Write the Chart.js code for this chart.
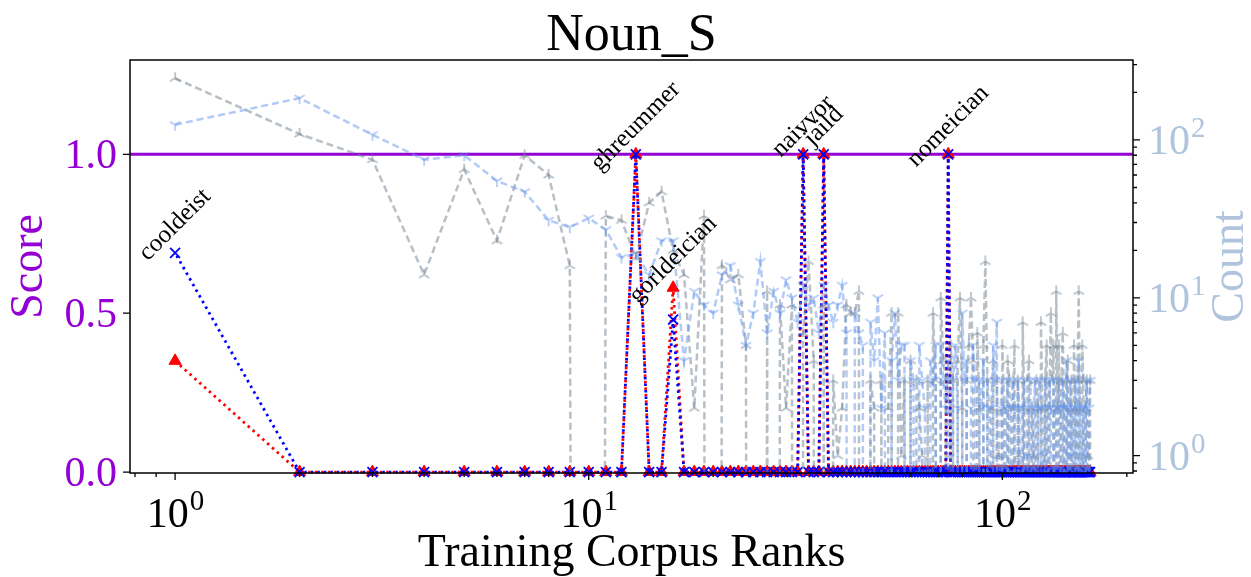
<!DOCTYPE html>
<html>
<head>
<meta charset="utf-8">
<script src="https://cdn.jsdelivr.net/npm/chart.js@4.4.0/dist/chart.umd.min.js"></script>
<style>
  html, body { margin: 0; padding: 0; background: #fff; }
</style>
</head>
<body>
<canvas id="chart" width="1251" height="577"></canvas>
<script>
// scores per training-corpus rank (1..163)
const redScore = [
  0.35, 0, 0, 0, 0, 0, 0, 0, 0, 0,
  0, 0, 1, 0, 0, 0.58, 0, 0, 0, 0,
  0, 0, 0, 0, 0, 0, 0, 0, 0, 0,
  0, 0, 1, 0, 0, 0, 1, 0, 0, 0,
  0, 0, 0, 0, 0, 0, 0, 0, 0, 0,
  0, 0, 0, 0, 0, 0, 0, 0, 0, 0,
  0, 0, 0, 0, 0, 0, 0, 0, 0, 0,
  0, 0, 0, 1, 0, 0, 0, 0, 0, 0,
  0, 0, 0, 0, 0, 0, 0, 0, 0, 0,
  0, 0, 0, 0, 0, 0, 0, 0, 0, 0,
  0, 0, 0, 0, 0, 0, 0, 0, 0, 0,
  0, 0, 0, 0, 0, 0, 0, 0, 0, 0,
  0, 0, 0, 0, 0, 0, 0, 0, 0, 0,
  0, 0, 0, 0, 0, 0, 0, 0, 0, 0,
  0, 0, 0, 0, 0, 0, 0, 0, 0, 0,
  0, 0, 0, 0, 0, 0, 0, 0, 0, 0,
  0, 0, 0
];
const blueScore = [
  0.69, 0, 0, 0, 0, 0, 0, 0, 0, 0,
  0, 0, 1, 0, 0, 0.48, 0, 0, 0, 0,
  0, 0, 0, 0, 0, 0, 0, 0, 0, 0,
  0, 0, 1, 0, 0, 0, 1, 0, 0, 0,
  0, 0, 0, 0, 0, 0, 0, 0, 0, 0,
  0, 0, 0, 0, 0, 0, 0, 0, 0, 0,
  0, 0, 0, 0, 0, 0, 0, 0, 0, 0,
  0, 0, 0, 1, 0, 0, 0, 0, 0, 0,
  0, 0, 0, 0, 0, 0, 0, 0, 0, 0,
  0, 0, 0, 0, 0, 0, 0, 0, 0, 0,
  0, 0, 0, 0, 0, 0, 0, 0, 0, 0,
  0, 0, 0, 0, 0, 0, 0, 0, 0, 0,
  0, 0, 0, 0, 0, 0, 0, 0, 0, 0,
  0, 0, 0, 0, 0, 0, 0, 0, 0, 0,
  0, 0, 0, 0, 0, 0, 0, 0, 0, 0,
  0, 0, 0, 0, 0, 0, 0, 0, 0, 0,
  0, 0, 0
];
// counts (right axis, log)
const grayCount = [
  246, 109, 75, 14, 65, 23, 80, 60, 16, 0,
  33, 31, 18, 40, 47, 20, 14, 2, 33, 0,
  16, 13, 14, 5, 0, 0, 11, 0, 9, 2,
  9, 0, 6, 17, 4, 0, 9, 0, 3, 1,
  2, 9, 8, 8, 11, 0, 0, 3, 2, 0,
  3, 0, 2, 8, 0, 8, 1, 3, 0, 4,
  0, 3, 2, 1, 0, 3, 0, 8, 3, 0,
  10, 4, 3, 0, 5, 3, 0, 4, 10, 2,
  0, 3, 5, 10, 4, 0, 6, 2, 0, 5,
  17, 3, 0, 2, 4, 0, 3, 1, 0, 5,
  2, 0, 4, 3, 0, 2, 5, 0, 3, 1,
  0, 7, 2, 0, 3, 4, 0, 2, 1, 0,
  3, 2, 0, 7, 2, 0, 3, 5, 0, 2,
  8, 3, 5, 0, 11, 2, 5, 0, 3, 6,
  2, 0, 3, 4, 0, 2, 3, 0, 5, 2,
  0, 3, 11, 2, 0, 5, 3, 0, 2, 3,
  1, 0, 3
];
const blueCount = [
  125, 184, 108, 75, 80, 55, 47, 31, 28, 32,
  27, 18, 19, 14, 23, 23, 4, 11, 9, 8,
  14, 16, 9, 5, 8, 17, 6, 11, 8, 13,
  10, 7, 12, 9, 10, 6, 12, 9, 7, 9,
  12, 6, 0, 8, 6, 5, 0, 7, 4, 10,
  2, 6, 0, 4, 8, 3, 5, 5, 0, 4,
  3, 0, 5, 3, 2, 0, 4, 3, 5, 0,
  5, 3, 2, 4, 0, 3, 5, 2, 0, 8,
  3, 4, 0, 2, 5, 3, 0, 3, 2, 4,
  0, 3, 2, 0, 5, 3, 7, 0, 2, 3,
  0, 2, 3, 0, 2, 3, 2, 0, 3, 2,
  0, 2, 3, 0, 1, 2, 3, 0, 2, 3,
  0, 2, 3, 2, 0, 1, 3, 0, 2, 3,
  2, 0, 3, 2, 0, 2, 3, 2, 0, 3,
  2, 0, 4, 2, 0, 3, 1, 2, 0, 3,
  2, 0, 4, 2, 0, 1, 2, 0, 2, 3,
  0, 2, 3
];
const annotLabels = ["cooldeist", "ghreummer", "gorldeician", "naivvor", "jaild", "nomeician"];
const annotRanks = [1, 13, 16, 33, 37, 74];
const xMajor = [1, 10, 100];
const xMinor = [0.8, 0.9, 2, 3, 4, 5, 6, 7, 8, 9, 20, 30, 40, 50, 60, 70, 80, 90, 200];
const y2Major = [1, 10, 100];
const y2Minor = [0.8, 0.9, 2, 3, 4, 5, 6, 7, 8, 9, 20, 30, 40, 50, 60, 70, 80, 90, 200, 300];
const yTicks = [0, 0.5, 1.0];

const ranks = redScore.map((_, i) => i + 1);
const SERIF = "'Liberation Serif', 'Times New Roman', serif";
const VIOLET = "#9400D3";
const STEEL = "#B0C4DE";

// log axis can't show 0, push it far below like matplotlib's clipping
function pts(vals, isLog) {
  return vals.map((v, i) => ({ x: ranks[i], y: isLog && v <= 0 ? 1e-30 : v }));
}

function triMarker(color, up) {
  const c = document.createElement("canvas");
  c.width = 16; c.height = 16;
  const g = c.getContext("2d");
  g.strokeStyle = color; g.lineWidth = 1.7;
  const r = 6, cx = 8, cy = 8, s = up ? -1 : 1;
  g.beginPath();
  g.moveTo(cx, cy); g.lineTo(cx, cy + s * r);
  g.moveTo(cx, cy); g.lineTo(cx - 0.866 * r, cy - s * 0.5 * r);
  g.moveTo(cx, cy); g.lineTo(cx + 0.866 * r, cy - s * 0.5 * r);
  g.stroke();
  return c;
}

const GRAY = "rgba(112,128,144,0.5)";
const LBLUE = "rgba(100,149,237,0.5)";

function drawPow(ctx, exp, x, y, align) {
  ctx.font = "42px " + SERIF;
  const w1 = ctx.measureText("10").width;
  ctx.font = "29px " + SERIF;
  const w2 = ctx.measureText(String(exp)).width;
  let start = align === "center" ? x - (w1 + w2) / 2 : x;
  ctx.textAlign = "left";
  ctx.textBaseline = "alphabetic";
  ctx.font = "42px " + SERIF;
  ctx.fillText("10", start, y);
  ctx.font = "29px " + SERIF;
  ctx.fillText(String(exp), start + w1 + 1, y - 17);
}

const decor = {
  id: "decor",
  beforeDatasetsDraw(chart) {
    const { ctx, chartArea: a, scales } = chart;
    const yy = scales.y.getPixelForValue(1.0);
    ctx.save();
    ctx.strokeStyle = VIOLET;
    ctx.lineWidth = 3;
    ctx.beginPath();
    ctx.moveTo(a.left, yy);
    ctx.lineTo(a.right, yy);
    ctx.stroke();
    ctx.restore();
  },
  afterDraw(chart) {
    const { ctx, chartArea: a, scales } = chart;
    const sx = scales.x, sy = scales.y, sy2 = scales.y2;
    ctx.save();
    // frame
    ctx.strokeStyle = "#000";
    ctx.lineWidth = 1.5;
    ctx.strokeRect(a.left, a.top, a.right - a.left, a.bottom - a.top);
    // ticks
    ctx.lineWidth = 1.3;
    ctx.beginPath();
    xMajor.forEach(v => { const p = sx.getPixelForValue(v); ctx.moveTo(p, a.bottom); ctx.lineTo(p, a.bottom + 7); });
    xMinor.forEach(v => { const p = sx.getPixelForValue(v); ctx.moveTo(p, a.bottom); ctx.lineTo(p, a.bottom + 4); });
    yTicks.forEach(v => { const p = sy.getPixelForValue(v); ctx.moveTo(a.left, p); ctx.lineTo(a.left - 7, p); });
    y2Major.forEach(v => { const p = sy2.getPixelForValue(v); ctx.moveTo(a.right, p); ctx.lineTo(a.right + 7, p); });
    y2Minor.forEach(v => { const p = sy2.getPixelForValue(v); if (p >= a.top && p <= a.bottom) { ctx.moveTo(a.right, p); ctx.lineTo(a.right + 4, p); } });
    ctx.stroke();

    // x tick labels
    ctx.fillStyle = "#000";
    xMajor.forEach((v, i) => drawPow(ctx, i, sx.getPixelForValue(v), a.bottom + 54, "center"));
    // left tick labels
    ctx.fillStyle = VIOLET;
    ctx.font = "42px " + SERIF;
    ctx.textAlign = "right";
    ctx.textBaseline = "alphabetic";
    yTicks.forEach(v => ctx.fillText(v.toFixed(1), a.left - 13, sy.getPixelForValue(v) + 14));
    // right tick labels
    ctx.fillStyle = STEEL;
    y2Major.forEach((v, i) => drawPow(ctx, i, a.right + 15, sy2.getPixelForValue(v) + 14, "left"));

    // title and axis titles
    ctx.fillStyle = "#000";
    ctx.textAlign = "center";
    ctx.font = "52px " + SERIF;
    ctx.fillText("Noun_S", (a.left + a.right) / 2, 50);
    ctx.font = "46px " + SERIF;
    ctx.fillText("Training Corpus Ranks", (a.left + a.right) / 2, 566);

    ctx.textBaseline = "middle";
    ctx.save();
    ctx.translate(30, (a.top + a.bottom) / 2);
    ctx.rotate(-Math.PI / 2);
    ctx.fillStyle = VIOLET;
    ctx.fillText("Score", 0, 0);
    ctx.restore();
    ctx.save();
    ctx.translate(1231, (a.top + a.bottom) / 2);
    ctx.rotate(-Math.PI / 2);
    ctx.fillStyle = STEEL;
    ctx.fillText("Count", 0, 0);
    ctx.restore();

    // word annotations
    ctx.fillStyle = "#000";
    ctx.font = "25px " + SERIF;
    annotRanks.forEach((r, i) => {
      const px = sx.getPixelForValue(r);
      const py = sy.getPixelForValue(Math.max(redScore[r - 1], blueScore[r - 1]));
      ctx.save();
      ctx.translate(px, py - 28);
      ctx.rotate(-Math.PI / 4);
      ctx.textAlign = "center";
      ctx.textBaseline = "middle";
      ctx.fillText(annotLabels[i], 0, 0);
      ctx.restore();
    });
    ctx.restore();
  }
};

const hidden = { ticks: { display: false }, grid: { display: false }, border: { display: false } };

new Chart(document.getElementById("chart").getContext("2d"), {
  type: "line",
  data: {
    datasets: [
      {
        label: "count b",
        data: pts(blueCount, true),
        yAxisID: "y2",
        borderColor: LBLUE,
        borderWidth: 2.5,
        borderDash: [7, 4],
        pointStyle: triMarker(LBLUE, false),
        pointRadius: 6,
        order: 1,
      },
      {
        label: "count a",
        data: pts(grayCount, true),
        yAxisID: "y2",
        borderColor: GRAY,
        borderWidth: 2.5,
        borderDash: [7, 4],
        pointStyle: triMarker(GRAY, true),
        pointRadius: 6,
        order: 2,
      },
      {
        label: "score b",
        data: pts(blueScore, false),
        yAxisID: "y",
        borderColor: "#0000FF",
        borderWidth: 2.8,
        borderDash: [2.5, 4],
        borderDashOffset: 3.2,
        pointStyle: "crossRot",
        pointRadius: 7,
        pointBorderWidth: 1.8,
        pointBorderColor: "#0000FF",
        clip: false,
        order: 3,
      },
      {
        label: "score a",
        data: pts(redScore, false),
        yAxisID: "y",
        borderColor: "#FF0000",
        borderWidth: 2.8,
        borderDash: [2.5, 4],
        pointStyle: "triangle",
        pointRadius: 7,
        pointBackgroundColor: "#FF0000",
        pointBorderColor: "#FF0000",
        pointBorderWidth: 1,
        clip: false,
        order: 4,
      },
    ],
  },
  options: {
    responsive: false,
    animation: false,
    devicePixelRatio: 1,
    layout: { padding: { top: 60, left: 0, right: 0, bottom: 0 } },
    elements: { line: { tension: 0, fill: false } },
    plugins: { legend: { display: false }, tooltip: { enabled: false }, title: { display: false } },
    scales: {
      x: Object.assign({ type: "logarithmic", position: "bottom", min: 0.778, max: 207,
        afterFit(s) { s.height = 104; } }, hidden),
      y: Object.assign({ type: "linear", position: "left", min: -0.003, max: 1.297,
        afterFit(s) { s.width = 130; } }, hidden),
      y2: Object.assign({ type: "logarithmic", position: "right", min: 0.777, max: 321,
        afterFit(s) { s.width = 118; } }, hidden),
    },
  },
  plugins: [decor],
});
</script>
</body>
</html>
